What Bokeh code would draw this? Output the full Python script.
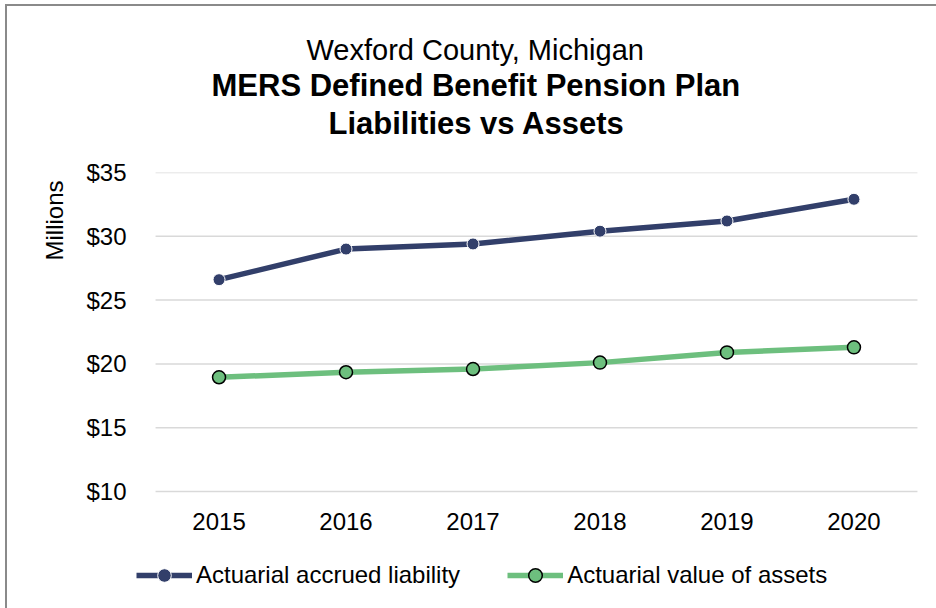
from bokeh.plotting import figure
from bokeh.models import (FactorRange, Range1d, FixedTicker, Legend, LegendItem, Title)
from bokeh.embed import file_html
from bokeh.resources import INLINE

# ---- data ----
years = ["2015", "2016", "2017", "2018", "2019", "2020"]
liability = [26.6, 29.0, 29.4, 30.4, 31.2, 32.9]
assets = [18.95, 19.35, 19.6, 20.1, 20.9, 21.3]
y_ticks = [10, 15, 20, 25, 30, 35]
y_tick_labels = ["$10", "$15", "$20", "$25", "$30", "$35"]
title_lines = ["Wexford County, Michigan", "MERS Defined Benefit Pension Plan", "Liabilities vs Assets"]
series_names = ["Actuarial accrued liability", "Actuarial value of assets"]
axis_unit = "Millions"

NAVY = "#323f6a"
GREEN = "#6dbf7e"
FONT = "Liberation Sans"

# frame spans down to the legend row; the value axis runs 10..35 inside it
px_per_unit = 319 / (y_ticks[-1] - y_ticks[0])
y_low = y_ticks[0] - 117 / px_per_unit

p = figure(x_range=FactorRange(*years, range_padding=0.15, range_padding_units="absolute"),
           y_range=Range1d(y_low, y_ticks[-1]),
           width=936, height=608, output_backend="svg", toolbar_location=None,
           min_border_left=136, min_border_right=0, min_border_top=172, min_border_bottom=0)
p.outline_line_color = None
p.background_fill_color = "white"
p.border_fill_color = None
p.styles = {
    "background-color": "white",
    "background-image": "linear-gradient(#8a8a8a, #8a8a8a), linear-gradient(#8a8a8a, #8a8a8a)",
    "background-size": "2px 100%, 100% 2px",
    "background-position": "5px 4px, 5px 4px",
    "background-repeat": "no-repeat",
}

# axes
p.xaxis.fixed_location = y_ticks[0]
p.xaxis.axis_line_color = None
p.xaxis.major_tick_line_color = None
p.xaxis.minor_tick_line_color = None
p.xaxis.major_tick_out = 0
p.xaxis.major_tick_in = 0
p.xaxis.major_label_text_font = FONT
p.xaxis.major_label_text_font_size = "24px"
p.xaxis.major_label_text_color = "black"
p.xaxis.major_label_standoff = 21

p.yaxis.axis_line_color = None
p.yaxis.major_tick_line_color = None
p.yaxis.minor_tick_line_color = None
p.yaxis.major_tick_out = 0
p.yaxis.major_tick_in = 0
p.yaxis.ticker = FixedTicker(ticks=y_ticks)
p.yaxis.major_label_overrides = {t: l for t, l in zip(y_ticks, y_tick_labels)}
p.yaxis.major_label_text_font = FONT
p.yaxis.major_label_text_font_size = "24px"
p.yaxis.major_label_text_color = "black"
p.yaxis.major_label_standoff = 10

# horizontal gridlines spanning the category bands only
p.xgrid.grid_line_color = None
p.ygrid.grid_line_color = None
p.segment(x0=[(years[0], -0.5)] * len(y_ticks), x1=[(years[-1], 0.5)] * len(y_ticks),
          y0=y_ticks, y1=y_ticks, line_color="#d9d9d9", line_width=1.5)

# series
l1 = p.line(years, liability, line_width=5.5, line_color=NAVY)
s1 = p.scatter(years, liability, size=12, fill_color=NAVY, line_color="white", line_width=1)
l2 = p.line(years, assets, line_width=5.5, line_color=GREEN)
s2 = p.scatter(years, assets, size=13, fill_color=GREEN, line_color="black", line_width=1.5)

# titles, stacked outward from the frame (first added = nearest the frame)
p.add_layout(Title(text=" ", text_font_size="10px", standoff=18), "above")
p.add_layout(Title(text=title_lines[2], align="left", offset=192, standoff=1,
                   text_font=FONT, text_font_size="31px", text_font_style="bold",
                   text_color="black"), "above")
p.add_layout(Title(text=title_lines[1], align="left", offset=75, standoff=1,
                   text_font=FONT, text_font_size="31px", text_font_style="bold",
                   text_color="black"), "above")
p.add_layout(Title(text=title_lines[0], align="left", offset=170, standoff=0,
                   text_font=FONT, text_font_size="29px", text_font_style="normal",
                   text_color="black"), "above")

# unit label on the left
p.add_layout(Title(text=axis_unit, align="right", offset=8, standoff=32,
                   text_font=FONT, text_font_size="24px", text_font_style="normal",
                   text_color="black"), "left")

legend = Legend(items=[LegendItem(label=series_names[0], renderers=[l1, s1]),
                       LegendItem(label=series_names[1], renderers=[l2, s2])],
                orientation="horizontal", location=(0, 16),
                glyph_width=56, glyph_height=34, label_standoff=4, spacing=47,
                padding=0, margin=0, border_line_color=None, background_fill_alpha=0,
                label_text_font=FONT, label_text_font_size="24px", label_text_color="black")
p.add_layout(legend)

open("out.html", "w").write(file_html(p, INLINE))
